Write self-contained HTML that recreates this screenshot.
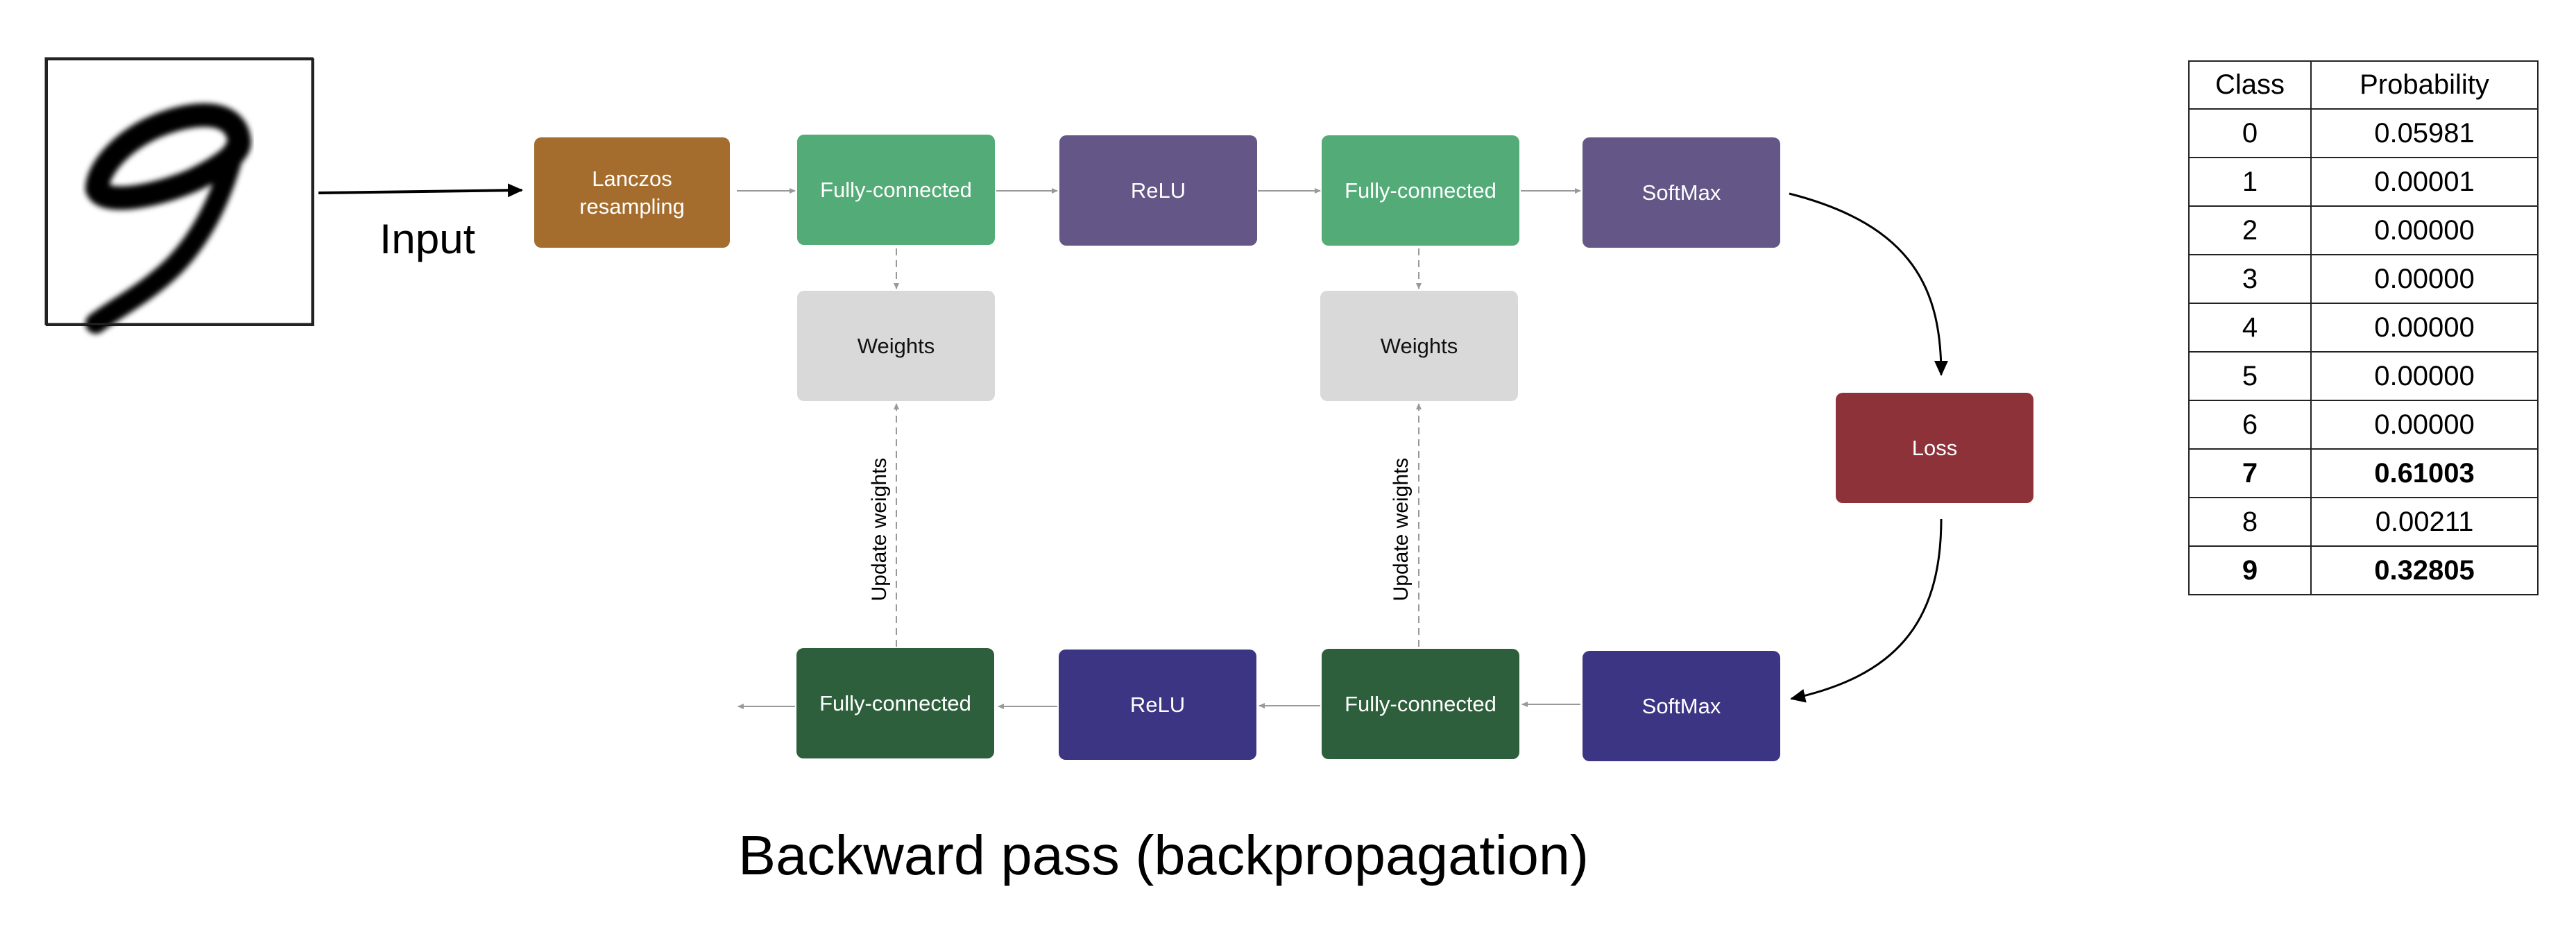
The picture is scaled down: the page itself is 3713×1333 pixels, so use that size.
<!DOCTYPE html>
<html><head><meta charset="utf-8"><style>
html,body{margin:0;padding:0;background:#fff;}
body{width:3713px;height:1333px;position:relative;overflow:hidden;font-family:"Liberation Sans",Arial,sans-serif;}
.b{position:absolute;width:285px;height:159px;border-radius:10px;color:#fff;font-size:31px;display:flex;align-items:center;justify-content:center;text-align:center;line-height:40px;}
.fc{background:#53AB78}.pu{background:#645686}.w{background:#D9D9D9;color:#111}
.dg{background:#2E5F3C}.nv{background:#3C3584}
table{position:absolute;left:3154px;top:87px;width:505px;border-collapse:collapse;font-size:40px;}
td{border:2px solid #222;height:70px;text-align:center;padding:0;box-sizing:border-box;}
td.c{width:176px}
.bd{font-weight:bold}
</style></head><body>
<div style="position:absolute;left:66px;top:84px;width:381px;height:380px;border:3px solid #222;"></div>
<svg width="3713" height="1333" style="position:absolute;left:0;top:0">
<defs>
<filter id="bl"><feGaussianBlur stdDeviation="4"/></filter>
<marker id="ga" markerWidth="10" markerHeight="10" refX="8" refY="5" orient="auto" markerUnits="userSpaceOnUse"><path d="M0,1 L9,5 L0,9 z" fill="#999"/></marker>
<marker id="bk" markerWidth="24" markerHeight="24" refX="20" refY="12" orient="auto" markerUnits="userSpaceOnUse"><path d="M0,2 L22,12 L0,22 z" fill="#000"/></marker>
</defs>
<g filter="url(#bl)" fill="none" stroke="#000" stroke-linecap="round">
<path d="M345,205 C342,160 290,158 235,178 C175,200 140,245 140,272 C150,298 230,282 282,258 C322,238 345,220 345,205 Z" stroke-width="34"/>
<path d="M338,215 C320,285 292,340 252,382 C212,422 170,442 138,466" stroke-width="30"/>
</g>
<rect x="66" y="84" width="384" height="383" fill="none" stroke="#222" stroke-width="3"/>
<path d="M459,278 L752,274" stroke="#000" stroke-width="4" marker-end="url(#bk)"/>
<g stroke="#999" stroke-width="2" fill="none">
<path d="M1062,275 L1146,275" marker-end="url(#ga)"/>
<path d="M1436,275 L1524,275" marker-end="url(#ga)"/>
<path d="M1813,275 L1903,275" marker-end="url(#ga)"/>
<path d="M2192,275 L2278,275" marker-end="url(#ga)"/>
<path d="M2278,1015 L2194,1015" marker-end="url(#ga)"/>
<path d="M1903,1017 L1815,1017" marker-end="url(#ga)"/>
<path d="M1524,1018 L1439,1018" marker-end="url(#ga)"/>
<path d="M1146,1018 L1064,1018" marker-end="url(#ga)"/>
<g stroke-dasharray="10,7">
<path d="M1292,358 L1292,416" marker-end="url(#ga)"/>
<path d="M2045,358 L2045,416" marker-end="url(#ga)"/>
<path d="M1292,932 L1292,582" marker-end="url(#ga)"/>
<path d="M2045,932 L2045,582" marker-end="url(#ga)"/>
</g>
</g>
<path d="M2579,279 C2760,325 2798,420 2798,540" stroke="#000" stroke-width="3" fill="none" marker-end="url(#bk)"/>
<path d="M2798,748 C2798,900 2730,975 2582,1007" stroke="#000" stroke-width="3" fill="none" marker-end="url(#bk)"/>
<text x="616" y="365" font-size="60" text-anchor="middle" font-family="Liberation Sans,Arial,sans-serif" textLength="138" lengthAdjust="spacingAndGlyphs">Input</text>
<text x="1064" y="1260" font-size="80" font-family="Liberation Sans,Arial,sans-serif" textLength="1226" lengthAdjust="spacingAndGlyphs">Backward pass (backpropagation)</text>
<text transform="translate(1277,763) rotate(-90)" font-size="30" text-anchor="middle" font-family="Liberation Sans,Arial,sans-serif">Update weights</text>
<text transform="translate(2029,763) rotate(-90)" font-size="30" text-anchor="middle" font-family="Liberation Sans,Arial,sans-serif">Update weights</text>
</svg>
<div class="b" style="left:770px;top:198px;width:282px;background:#A46D2E">Lanczos<br>resampling</div>
<div class="b fc" style="left:1149px;top:194px">Fully-connected</div>
<div class="b pu" style="left:1527px;top:195px">ReLU</div>
<div class="b fc" style="left:1905px;top:195px">Fully-connected</div>
<div class="b pu" style="left:2281px;top:198px">SoftMax</div>
<div class="b w" style="left:1149px;top:419px">Weights</div>
<div class="b w" style="left:1903px;top:419px">Weights</div>
<div class="b" style="left:2646px;top:566px;background:#8E323A">Loss</div>
<div class="b dg" style="left:1148px;top:934px">Fully-connected</div>
<div class="b nv" style="left:1526px;top:936px">ReLU</div>
<div class="b dg" style="left:1905px;top:935px">Fully-connected</div>
<div class="b nv" style="left:2281px;top:938px">SoftMax</div>
<table>
<tr><td class="c" style="height:69px">Class</td><td style="height:69px">Probability</td></tr>
<tr><td>0</td><td>0.05981</td></tr>
<tr><td>1</td><td>0.00001</td></tr>
<tr><td>2</td><td>0.00000</td></tr>
<tr><td>3</td><td>0.00000</td></tr>
<tr><td>4</td><td>0.00000</td></tr>
<tr><td>5</td><td>0.00000</td></tr>
<tr><td>6</td><td>0.00000</td></tr>
<tr class="bd"><td>7</td><td>0.61003</td></tr>
<tr><td>8</td><td>0.00211</td></tr>
<tr class="bd"><td>9</td><td>0.32805</td></tr>
</table>
</body></html>
